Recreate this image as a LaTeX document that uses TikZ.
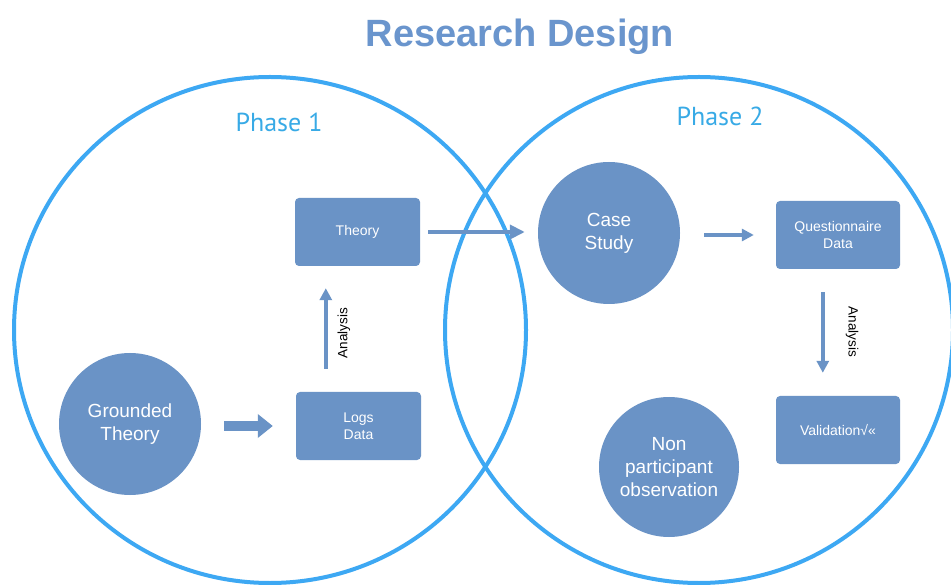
\documentclass[tikz,border=0pt]{standalone}
\usepackage{fontspec}
\setmainfont{Liberation Sans}
\newfontfamily\phasefont{PT Sans}
\usetikzlibrary{arrows.meta,calc}
\definecolor{ringblue}{HTML}{3DA8F3}
\definecolor{boxblue}{HTML}{6A93C6}
\definecolor{phaseblue}{HTML}{38AAE6}
\definecolor{titleblue}{HTML}{6A95CD}
\begin{document}
\begin{tikzpicture}[x=1pt,y=-1pt,
  ring/.style={draw=ringblue,line width=4pt},
  bluebox/.style={fill=boxblue,rounded corners=4pt,minimum width=125pt,minimum height=68pt,
    text=white,font=\fontsize{14}{17}\selectfont,align=center,inner sep=0pt},
  bluedisc/.style={circle,fill=boxblue,minimum size=142pt,text=white,
    font=\fontsize{19}{23}\selectfont,align=center,inner sep=0pt},
  phaselabel/.style={text=phaseblue,font=\phasefont\fontsize{26}{28}\selectfont},
  flowlabel/.style={text=black,font=\fontsize{13.5}{15}\selectfont,inner sep=0pt},
  flow/.style={draw=boxblue,line width=3.5pt,-{Triangle[length=12pt,width=12pt]}},
  longflow/.style={draw=boxblue,line width=4.5pt,-{Triangle[length=15pt,width=14pt]}},
  bigflow/.style={draw=boxblue,line width=10pt,-{Triangle[length=15pt,width=23pt]}}
]
\useasboundingbox (0,0) rectangle (951,585);
\fill[white] (0,0) rectangle (951,585);

% phase rings
\draw[ring] (270,330) ellipse[x radius=256pt,y radius=253pt];
\draw[ring] (699,330) ellipse[x radius=254pt,y radius=253pt];

% title and phase labels
\node[text=titleblue,font=\bfseries\fontsize{38}{40}\selectfont,anchor=base] (title) at (520,47) {Research Design};
\node[phaselabel] (phase1) at (279,122) {Phase 1};
\node[phaselabel] (phase2) at (720,116) {Phase 2};

% nodes
\node[bluedisc] (grounded) at (130,424) {Grounded\\Theory};
\node[bluebox] (logs) at (358.5,426) {Logs\\Data};
\node[bluebox] (theory) at (357.5,232) {Theory};
\node[bluedisc] (case) at (609,233) {Case\\Study};
\node[bluebox,minimum width=124pt] (quest) at (838,235) {Questionnaire\\Data};
\node[bluebox,minimum width=124pt] (val) at (838,430) {Validation√«};
\node[bluedisc,minimum size=140pt] (nonpart) at (669,467) {Non\\participant\\observation};

% connectors
\draw[bigflow,shorten <=23pt,shorten >=23pt] (grounded.east |- logs.west) -- (logs.west);

\coordinate (upx) at ($(logs.north west)+(30,0)$);
\draw[flow,shorten <=23pt,shorten >=22pt] (upx) -- (upx |- theory.south);
\node[flowlabel,rotate=90] (an1) at (344,333) {Analysis};

\draw[longflow,shorten <=8pt,shorten >=13pt] (theory.east) -- (theory.east -| case.west);

\draw[flow,shorten <=24pt,shorten >=22pt] (case.east |- quest.west) -- (quest.west);

\coordinate (dnx) at ($(quest.south west)+(47,0)$);
\draw[flow,shorten <=23pt,shorten >=23pt] (dnx) -- (dnx |- val.north);
\node[flowlabel,rotate=-90] (an2) at (852,332) {Analysis};
\end{tikzpicture}
\end{document}
